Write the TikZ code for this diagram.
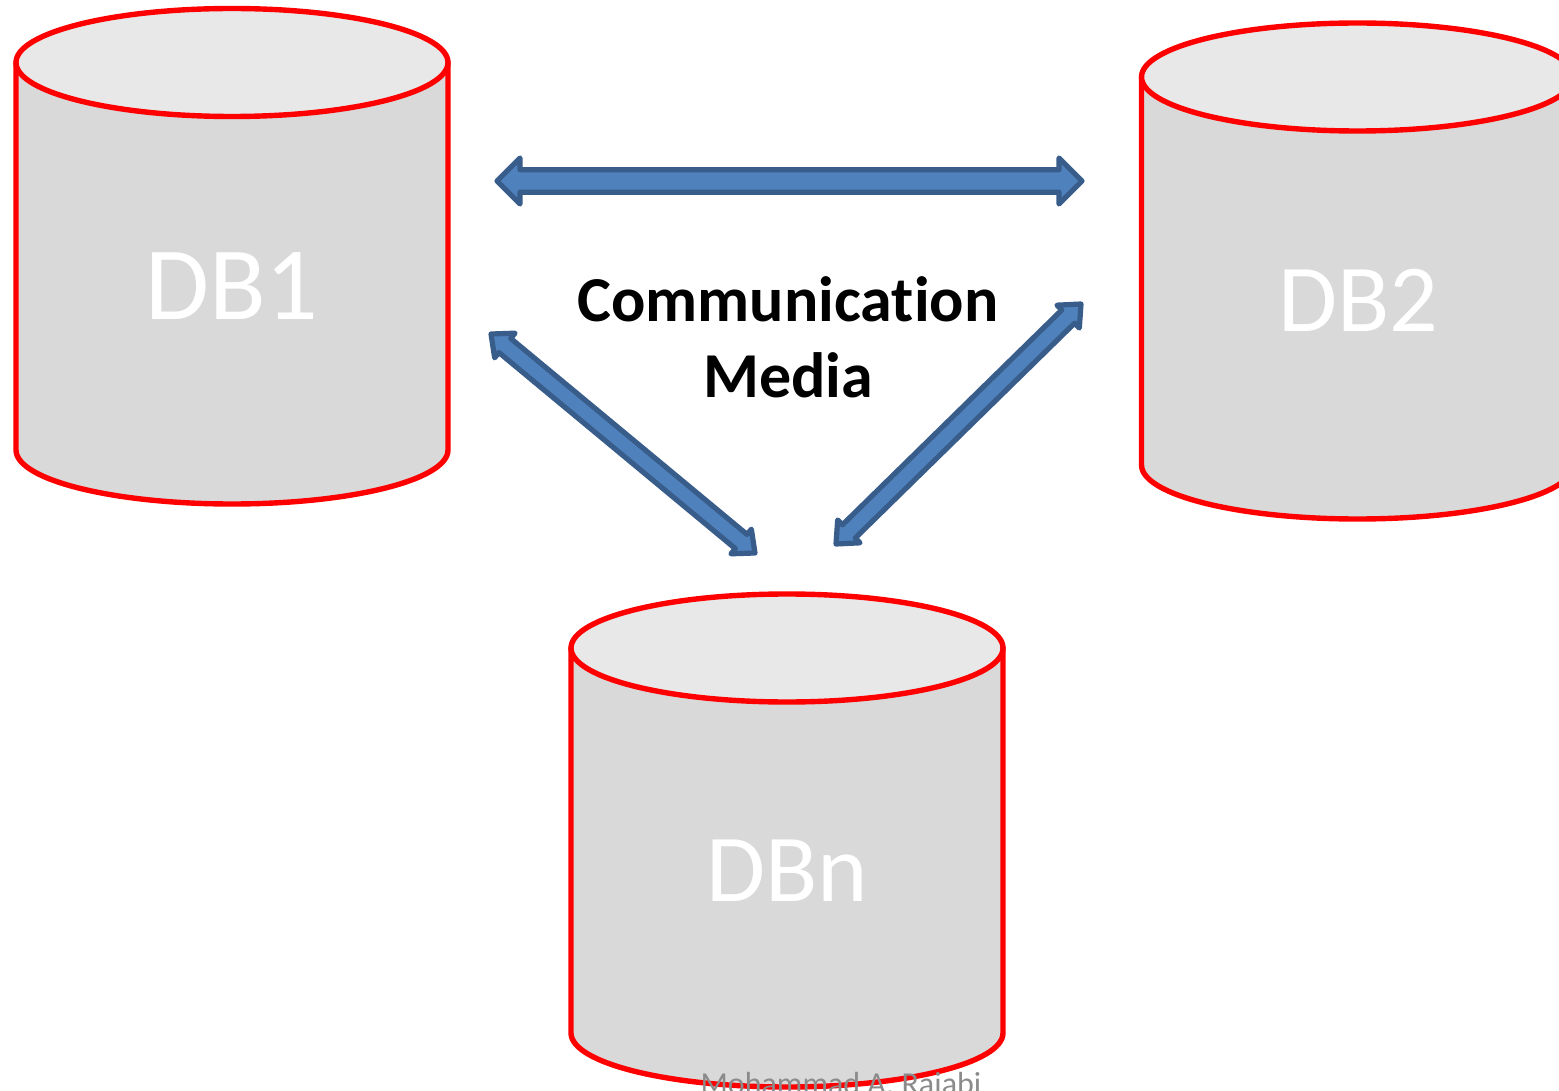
\documentclass[tikz,border=0pt]{standalone}
\usepackage{fontspec}
\setmainfont[Ligatures=NoCommon]{Carlito}
\usetikzlibrary{calc}
\definecolor{arrowfill}{HTML}{4F81BD}
\definecolor{arrowline}{HTML}{385D8A}
\definecolor{cylbody}{HTML}{D9D9D9}
\definecolor{cyltop}{HTML}{E8E8E8}
\definecolor{footgrey}{HTML}{8B8B8B}
\tikzset{
  cylshape/.style={draw=red,line width=2.7pt,line join=round},
  dbarrow/.style={draw=arrowline,fill=arrowfill,line width=2.6pt,line join=round},
  dblabel/.style={text=white,font=\fontsize{52}{60}\selectfont,inner sep=0pt,anchor=center},
  dblabelsmall/.style={text=white,font=\fontsize{48}{56}\selectfont,inner sep=0pt,anchor=center},
  medialabel/.style={font=\fontsize{32}{38}\selectfont\bfseries,inner sep=0pt,anchor=center},
  footlabel/.style={text=footgrey,font=\fontsize{16}{20}\selectfont,inner sep=0pt,anchor=base}
}
% #1 left x, #2 top-ellipse centre y, #3 bottom-edge y of the straight sides
\newcommand{\dbcyl}[3]{%
  \path[cylshape,fill=cylbody] (#1,#2) -- (#1,#3) arc[start angle=180,end angle=360,x radius=108pt,y radius=27pt] -- (#1+432,#2) -- cycle;
  \path[cylshape,fill=cyltop] (#1+216,#2) ellipse[x radius=108pt,y radius=27pt];
}
% #1,#2 end coordinates; #3 head half width; #4 shaft half width; #5 head length
\newcommand{\dbarrowshape}[5]{%
  \path[dbarrow] (#1)
   -- ($(#1)!#5!(#2)!#3!90:(#2)$)
   -- ($(#1)!#5!(#2)!#4!90:(#2)$)
   -- ($(#2)!#5!(#1)!#4!-90:(#1)$)
   -- ($(#2)!#5!(#1)!#3!-90:(#1)$)
   -- (#2)
   -- ($(#2)!#5!(#1)!#3!90:(#1)$)
   -- ($(#2)!#5!(#1)!#4!90:(#1)$)
   -- ($(#1)!#5!(#2)!#4!-90:(#2)$)
   -- ($(#1)!#5!(#2)!#3!-90:(#2)$)
   -- cycle;
}
\begin{document}
\begin{tikzpicture}[x=0.5pt,y=-0.5pt]
\useasboundingbox (0,0) rectangle (1559,1091);
\clip (0,0) rectangle (1559,1091);
\fill[white] (0,0) rectangle (1559,1091);
\dbcyl{16}{62.5}{450}
\dbcyl{1141.5}{77}{465}
\dbcyl{571}{648}{1033}
\coordinate (h1) at (497,181);
\coordinate (h2) at (1082,181);
\coordinate (d1) at (491,334);
\coordinate (d2) at (755,553);
\coordinate (e1) at (1081,304);
\coordinate (e2) at (836,544);
\dbarrowshape{h1}{h2}{11.5pt}{5.6pt}{11.5pt}
\dbarrowshape{d1}{d2}{8pt}{4.6pt}{9pt}
\dbarrowshape{e1}{e2}{8pt}{4.6pt}{9pt}
\node[dblabel] (t1) at (232,286) {DB1};
\node[dblabelsmall] (t2) at (1358,300) {DB2};
\node[dblabelsmall] (t3) at (787,871) {DBn};
\node[medialabel] (m1) at (788,299) {Communication};
\node[medialabel] (m2) at (788,375) {Media};
\node[footlabel] (f) at (841,1094) {Mohammad A. Rajabi};
\end{tikzpicture}
\end{document}
